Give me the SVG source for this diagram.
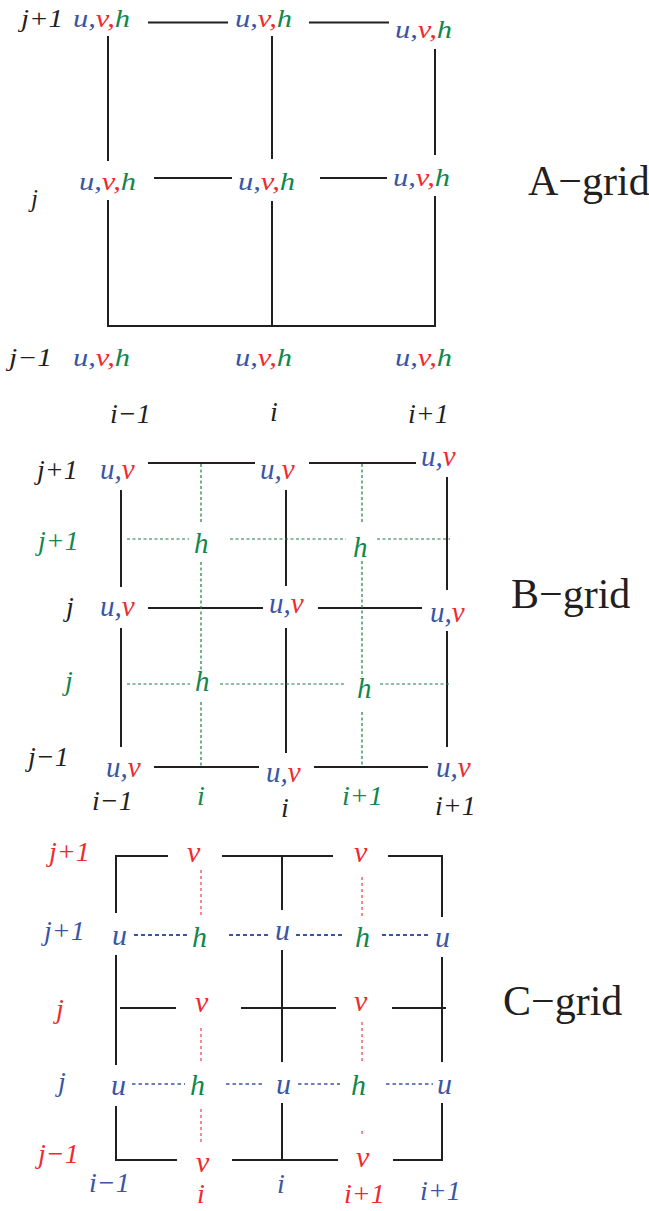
<svg xmlns="http://www.w3.org/2000/svg" width="649" height="1211" viewBox="0 0 649 1211">
<style>
text{font-family:"Liberation Serif","Times New Roman",serif}
.it{font-style:italic}
.a{font-size:25px}
.m{font-size:28px}
.bb{font-size:29px}
.c{font-size:30px}
.t{font-size:42px;fill:#231f20}
.k{fill:#231f20}
.b{fill:#3a55a5}
.r{fill:#ee2a2e}
.g{fill:#12874a}
.ln{stroke:#231f20;stroke-width:2;fill:none}
.gd{stroke:#1a7d3e;stroke-width:1.2;stroke-dasharray:3 2.5;fill:none}
.bd{stroke:#3a55a5;stroke-width:2;stroke-dasharray:4 3;fill:none}
.bd2{stroke:#3a55a5;stroke-width:1.3;stroke-dasharray:3.5 3;fill:none}
.rd{stroke:#ee2a2e;stroke-width:1.1;stroke-dasharray:3 3;fill:none}
</style>
<rect width="649" height="1211" fill="#ffffff"/>

<g id="connectors">
<g id="A-lines" class="ln">
<line x1="148" y1="22.5" x2="228" y2="22.5"/>
<line x1="309" y1="22.5" x2="389" y2="22.5"/>
<line x1="108" y1="36" x2="108" y2="161"/>
<line x1="272" y1="36" x2="272" y2="159"/>
<line x1="435" y1="49" x2="435" y2="155"/>
<line x1="154" y1="178" x2="232" y2="178"/>
<line x1="320" y1="178" x2="387" y2="178"/>
<polyline points="108,200 108,326 435,326 435,196"/>
<line x1="272" y1="201" x2="272" y2="326"/>
</g>

<g id="B-lines">
<g class="ln">
<line x1="148" y1="463" x2="255" y2="463"/>
<line x1="309" y1="463" x2="416" y2="463"/>
<line x1="121" y1="490" x2="121" y2="587"/>
<line x1="286" y1="490" x2="286" y2="586"/>
<line x1="447" y1="477" x2="447" y2="590"/>
<line x1="148" y1="608" x2="263" y2="608"/>
<line x1="318" y1="608" x2="422" y2="608"/>
<line x1="121" y1="628" x2="121" y2="747"/>
<line x1="286" y1="628" x2="286" y2="753"/>
<line x1="447" y1="631" x2="447" y2="747"/>
<line x1="154" y1="767" x2="259" y2="767"/>
<line x1="314" y1="767" x2="428" y2="767"/>
</g>
<g class="gd">
<line x1="201" y1="464" x2="201" y2="523"/>
<line x1="201" y1="562" x2="201" y2="673"/>
<line x1="201" y1="702" x2="201" y2="766"/>
<line x1="362" y1="464" x2="362" y2="523"/>
<line x1="362" y1="561" x2="362" y2="677"/>
<line x1="362" y1="712" x2="362" y2="766"/>
<line x1="127" y1="539" x2="189" y2="539"/>
<line x1="230" y1="539" x2="346" y2="539"/>
<line x1="377" y1="539" x2="450" y2="539"/>
<line x1="127" y1="684" x2="190" y2="684"/>
<line x1="220" y1="684" x2="346" y2="684"/>
<line x1="380" y1="684" x2="450" y2="684"/>
</g>
</g>

<g id="C-lines">
<g class="ln">
<line x1="116" y1="856" x2="168" y2="856"/>
<line x1="222" y1="856" x2="333" y2="856"/>
<line x1="388" y1="856" x2="442" y2="856"/>
<line x1="116" y1="855" x2="116" y2="913"/>
<line x1="282" y1="856" x2="282" y2="910"/>
<line x1="442" y1="855" x2="442" y2="917"/>
<line x1="116" y1="955" x2="116" y2="1065"/>
<line x1="282" y1="950" x2="282" y2="1062"/>
<line x1="442" y1="957" x2="442" y2="1062"/>
<line x1="120" y1="1008" x2="176" y2="1008"/>
<line x1="241" y1="1008" x2="336" y2="1008"/>
<line x1="392" y1="1008" x2="446" y2="1008"/>
<polyline points="116,1106 116,1160 177,1160"/>
<line x1="232" y1="1160" x2="338" y2="1160"/>
<polyline points="393,1160 442,1160 442,1103"/>
<line x1="282" y1="1103" x2="282" y2="1160"/>
</g>
<g class="rd">
<line x1="201" y1="870" x2="201" y2="916"/>
<line x1="362" y1="877" x2="362" y2="916"/>
<line x1="201" y1="1028" x2="201" y2="1062"/>
<line x1="362" y1="1022" x2="362" y2="1062"/>
<line x1="201" y1="1109" x2="201" y2="1142"/>
<line x1="362" y1="1131" x2="362" y2="1135"/>
</g>
<g class="bd">
<line x1="134" y1="935" x2="187" y2="935"/>
<line x1="229" y1="935" x2="268" y2="935"/>
<line x1="296" y1="935" x2="345" y2="935"/>
<line x1="382" y1="935" x2="428" y2="935"/>
</g>
<g class="bd2">
<line x1="132" y1="1084" x2="185" y2="1084"/>
<line x1="226" y1="1084" x2="265" y2="1084"/>
<line x1="298" y1="1084" x2="340" y2="1084"/>
<line x1="386" y1="1084" x2="433" y2="1084"/>
</g>
</g>
</g>

<g id="A-nodes" class="it a">
<g id="A-n-tl"><text x="73" y="27" textLength="57" lengthAdjust="spacingAndGlyphs"><tspan class="b">u,</tspan><tspan class="r">v,</tspan><tspan class="g">h</tspan></text></g>
<g id="A-n-tm"><text x="235" y="27" textLength="57" lengthAdjust="spacingAndGlyphs"><tspan class="b">u,</tspan><tspan class="r">v,</tspan><tspan class="g">h</tspan></text></g>
<g id="A-n-tr"><text x="395" y="38" textLength="57" lengthAdjust="spacingAndGlyphs"><tspan class="b">u,</tspan><tspan class="r">v,</tspan><tspan class="g">h</tspan></text></g>
<g id="A-n-ml"><text x="79" y="190" textLength="57" lengthAdjust="spacingAndGlyphs"><tspan class="b">u,</tspan><tspan class="r">v,</tspan><tspan class="g">h</tspan></text></g>
<g id="A-n-mm"><text x="238" y="190" textLength="57" lengthAdjust="spacingAndGlyphs"><tspan class="b">u,</tspan><tspan class="r">v,</tspan><tspan class="g">h</tspan></text></g>
<g id="A-n-mr"><text x="393" y="186" textLength="57" lengthAdjust="spacingAndGlyphs"><tspan class="b">u,</tspan><tspan class="r">v,</tspan><tspan class="g">h</tspan></text></g>
<g id="A-n-bl"><text x="73" y="366" textLength="57" lengthAdjust="spacingAndGlyphs"><tspan class="b">u,</tspan><tspan class="r">v,</tspan><tspan class="g">h</tspan></text></g>
<g id="A-n-bm"><text x="235" y="366" textLength="57" lengthAdjust="spacingAndGlyphs"><tspan class="b">u,</tspan><tspan class="r">v,</tspan><tspan class="g">h</tspan></text></g>
<g id="A-n-br"><text x="395" y="366" textLength="57" lengthAdjust="spacingAndGlyphs"><tspan class="b">u,</tspan><tspan class="r">v,</tspan><tspan class="g">h</tspan></text></g>
</g>
<g id="A-labels" class="it k">
<text class="a" x="21" y="27" textLength="42" lengthAdjust="spacingAndGlyphs">j+1</text>
<text class="a" x="31" y="207">j</text>
<text class="a" x="9" y="366" textLength="43" lengthAdjust="spacingAndGlyphs">j−1</text>
<text class="m" x="110" y="423">i−1</text>
<text class="m" x="270" y="421">i</text>
<text class="m" x="408" y="423">i+1</text>
</g>
<g id="A-title"><text class="t" x="528" y="195">A−grid</text></g>

<g id="B-nodes" class="it bb">
<g id="B-n-tl"><text x="100" y="479"><tspan class="b">u,</tspan><tspan class="r">v</tspan></text></g>
<g id="B-n-tm"><text x="260" y="479"><tspan class="b">u,</tspan><tspan class="r">v</tspan></text></g>
<g id="B-n-tr"><text x="421" y="466"><tspan class="b">u,</tspan><tspan class="r">v</tspan></text></g>
<g id="B-n-ml"><text x="100" y="616"><tspan class="b">u,</tspan><tspan class="r">v</tspan></text></g>
<g id="B-n-mm"><text x="269" y="613"><tspan class="b">u,</tspan><tspan class="r">v</tspan></text></g>
<g id="B-n-mr"><text x="430" y="622"><tspan class="b">u,</tspan><tspan class="r">v</tspan></text></g>
<g id="B-n-bl"><text x="106" y="777"><tspan class="b">u,</tspan><tspan class="r">v</tspan></text></g>
<g id="B-n-bm"><text x="266" y="782"><tspan class="b">u,</tspan><tspan class="r">v</tspan></text></g>
<g id="B-n-br"><text x="436" y="777"><tspan class="b">u,</tspan><tspan class="r">v</tspan></text></g>
<g id="B-h-1"><text class="g" x="194" y="553">h</text></g>
<g id="B-h-2"><text class="g" x="353" y="557">h</text></g>
<g id="B-h-3"><text class="g" x="195" y="691">h</text></g>
<g id="B-h-4"><text class="g" x="357" y="698">h</text></g>
</g>
<g id="B-labels" class="it m">
<text class="k" x="37" y="479">j+1</text>
<text class="g" x="38" y="550">j+1</text>
<text class="k" x="66" y="616">j</text>
<text class="g" x="65" y="690">j</text>
<text class="k" x="28" y="766">j−1</text>
<text class="k" x="92" y="810">i−1</text>
<text class="g" x="197" y="805">i</text>
<text class="k" x="281" y="817">i</text>
<text class="g" x="342" y="805">i+1</text>
<text class="k" x="435" y="815">i+1</text>
</g>
<g id="B-title"><text class="t" x="511" y="608">B−grid</text></g>

<g id="C-nodes" class="it c">
<g id="C-v-1"><text class="r" x="187" y="862">v</text></g>
<g id="C-v-2"><text class="r" x="354" y="862">v</text></g>
<g id="C-u-1"><text class="b" x="112" y="945">u</text></g>
<g id="C-h-1"><text class="g" x="192" y="947">h</text></g>
<g id="C-u-2"><text class="b" x="275" y="940">u</text></g>
<g id="C-h-2"><text class="g" x="355" y="947">h</text></g>
<g id="C-u-3"><text class="b" x="435" y="947">u</text></g>
<g id="C-v-3"><text class="r" x="195" y="1012">v</text></g>
<g id="C-v-4"><text class="r" x="354" y="1011">v</text></g>
<g id="C-u-4"><text class="b" x="111" y="1095">u</text></g>
<g id="C-h-3"><text class="g" x="190" y="1095">h</text></g>
<g id="C-u-5"><text class="b" x="276" y="1094">u</text></g>
<g id="C-h-4"><text class="g" x="351" y="1095">h</text></g>
<g id="C-u-6"><text class="b" x="437" y="1094">u</text></g>
<g id="C-v-5"><text class="r" x="196" y="1172">v</text></g>
<g id="C-v-6"><text class="r" x="356" y="1167">v</text></g>
</g>
<g id="C-labels" class="it m">
<text class="r" x="49" y="861">j+1</text>
<text class="b" x="44" y="940">j+1</text>
<text class="r" x="56" y="1018">j</text>
<text class="b" x="58" y="1091">j</text>
<text class="r" x="38" y="1163">j−1</text>
<text class="b" x="89" y="1192">i−1</text>
<text class="r" x="197" y="1203">i</text>
<text class="b" x="277" y="1193">i</text>
<text class="r" x="344" y="1203">i+1</text>
<text class="b" x="420" y="1200">i+1</text>
</g>
<g id="C-title"><text class="t" x="503" y="1015">C−grid</text></g>
</svg>
